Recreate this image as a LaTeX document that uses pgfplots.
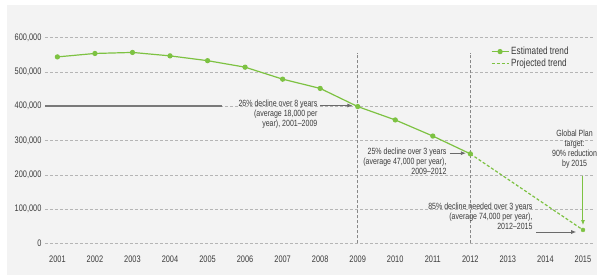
\documentclass[border=0pt]{standalone}
\usepackage{pgfplots}
\pgfplotsset{compat=1.18}
\usepackage{fontspec}
\setmainfont{Liberation Sans}[FakeStretch=0.78]
\usetikzlibrary{arrows.meta}
\definecolor{bg}{HTML}{F3F3F3}
\definecolor{grn}{HTML}{7DC242}
\definecolor{txt}{HTML}{3C3C3C}
\definecolor{gridc}{HTML}{B5B5B5}
\definecolor{arr}{HTML}{6A6A6A}
\begin{document}
\begin{tikzpicture}
\useasboundingbox (-45pt,-33.7pt) rectangle (555pt,243.3pt);
\fill[bg] (-38pt,-31.7pt) rectangle (552pt,238.3pt);
\begin{axis}[
  at={(0,0)}, anchor=south west,
  scale only axis, width=550pt, height=205.6pt,
  xmin=2000.67, xmax=2015.32, ymin=0, ymax=600000,
  axis line style={draw=none}, tick style={draw=none},
  xtick={2001,2002,...,2015},
  xticklabels={2001,2002,2003,2004,2005,2006,2007,2008,2009,2010,2011,2012,2013,2014,2015},
  ytick={0,100000,200000,300000,400000,500000,600000},
  yticklabels={0,{100,000},{200,000},{300,000},{400,000},{500,000},{600,000}},
  x tick label style={yshift=-9pt},
  scaled y ticks=false,
  ymajorgrids, grid style={gridc, densely dashed, line width=0.5pt},
  ticklabel style={font=\fontsize{9.5}{10}\selectfont, text=txt},
  clip=false,
  legend cell align=left,
  legend style={draw=none, fill=none, at={(rel axis cs:0.805,0.975)}, anchor=north west,
    font=\fontsize{10.5}{12}\selectfont, text=txt, row sep=-1pt},
]
\addplot[grn, line width=1.2pt, mark=*, mark size=2pt, mark options={fill=grn, draw=grn, solid}]
  coordinates {(2001,544000)(2002,554000)(2003,557000)(2004,547000)(2005,533000)(2006,514000)
  (2007,479000)(2008,452000)(2009,399000)(2010,360000)(2011,313000)(2012,261000)};
\addlegendentry{Estimated trend}
\addplot[grn, line width=1.2pt, dash pattern=on 3pt off 2pt] coordinates {(2012,261000)(2015,39000)};
\addlegendentry{Projected trend}
\addplot[only marks, mark=*, grn, mark size=2pt, forget plot] coordinates {(2015,39000)};

\draw[arr!80, densely dashed, line width=0.6pt] (axis cs:2009,0) -- (axis cs:2009,555000);
\draw[arr!80, densely dashed, line width=0.6pt] (axis cs:2012,0) -- (axis cs:2012,555000);

\draw[arr!90, line width=1.8pt] (axis cs:2000.67,400000) -- (axis cs:2005.38,400000);
\draw[arr, line width=0.8pt, -{Latex[length=5pt,width=4pt]}] (axis cs:2008.0,402000) -- (axis cs:2008.86,402000);
\node[anchor=north east, align=right, font=\fontsize{9}{10}\selectfont, text=txt, inner sep=0pt]
  at (axis cs:2007.93,420000) {26\% decline over 8 years\\(average 18,000 per\\year), 2001--2009};

\draw[arr, line width=0.8pt, -{Latex[length=5pt,width=4pt]}] (axis cs:2011.45,263000) -- (axis cs:2011.88,263000);
\node[anchor=north east, align=right, font=\fontsize{9}{10}\selectfont, text=txt, inner sep=0pt]
  at (axis cs:2011.37,280000) {25\% decline over 3 years\\(average 47,000 per year),\\2009--2012};

\draw[arr, line width=0.8pt, -{Latex[length=5pt,width=4pt]}] (axis cs:2013.75,33000) -- (axis cs:2014.82,33000);
\node[anchor=north east, align=right, font=\fontsize{9}{10}\selectfont, text=txt, inner sep=0pt]
  at (axis cs:2013.66,117000) {85\% decline needed over 3 years\\(average 74,000 per year),\\2012--2015};

\draw[grn, line width=1pt, -{Latex[length=5pt,width=4pt]}] (axis cs:2015,197000) -- (axis cs:2015,53000);
\node[anchor=north east, align=center, font=\fontsize{9}{10}\selectfont, text=txt, inner sep=0pt]
  at (axis cs:2015.38,332000) {Global Plan\\target:\\90\% reduction\\by 2015};
\end{axis}
\end{tikzpicture}
\end{document}
